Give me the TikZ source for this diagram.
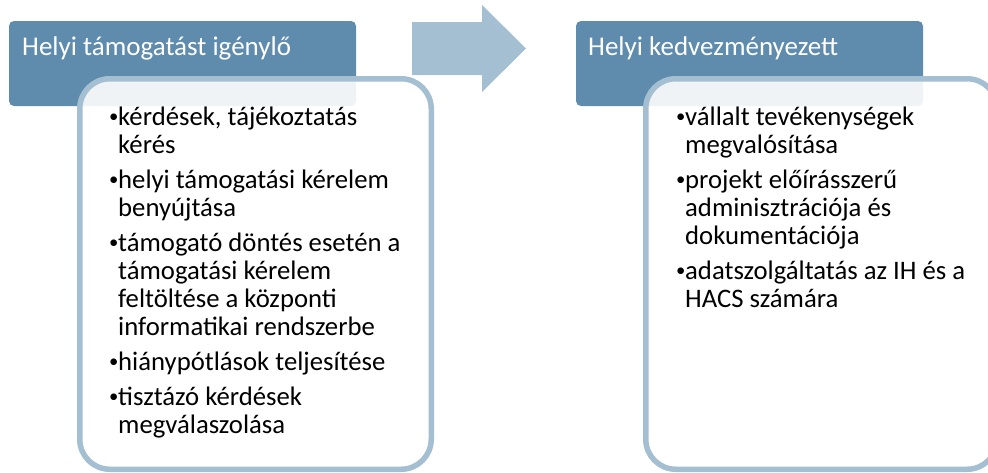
\documentclass[tikz,border=0pt]{standalone}
\usepackage{fontspec}
\setmainfont{Carlito}
\usepackage{array}
\usepackage{graphicx}
\definecolor{hdrblue}{HTML}{5F8BAD}
\definecolor{lineblue}{HTML}{A5BFD2}
\tikzset{
  header/.style={fill=hdrblue, draw=none, rounded corners=5pt, minimum width=347pt, minimum height=85pt, inner sep=0pt, outer sep=0pt},
  panel/.style={draw=lineblue, line width=5.5pt, fill=white, fill opacity=0.9, rounded corners=30pt, minimum width=351.5pt, minimum height=390.5pt, inner sep=0pt, outer sep=0pt},
  headtext/.style={text=white, font=\fontsize{27}{32}\selectfont, anchor=base west, inner sep=0pt},
  bodytext/.style={text=black, font=\fontsize{26.7}{28}\selectfont, anchor=base west, inner sep=0pt},
  bigarrow/.style={fill=lineblue, draw=none}
}
\newcommand{\bl}{\makebox[10pt][l]{\hspace{1pt}\raisebox{2.6pt}{\scalebox{0.7}{\textbullet}}}}
\begin{document}
\begin{tikzpicture}[x=1pt,y=-1pt]
\useasboundingbox (0,0) rectangle (988,472);
\clip (0,0) rectangle (988,472);
% left column
\node[header] (lhead) at (182.5,63.5) {};
\node[headtext] (lheadtxt) at (22,55) {Helyi támogatást igénylő};
\node[panel] (lpanel) at (255.5,274) {};
\node[bodytext] (ltext) at (108,125) {%
\begin{tabular}[t]{@{}l@{}l@{}}
\bl & kérdések, tájékoztatás\\
    & kérés\\[7pt]
\bl & helyi támogatási kérelem\\
    & benyújtása\\[7pt]
\bl & támogató döntés esetén a\\
    & támogatási kérelem\\
    & feltöltése a központi\\
    & informatikai rendszerbe\\[7pt]
\bl & hiánypótlások teljesítése\\[7pt]
\bl & tisztázó kérdések\\
    & megválaszolása
\end{tabular}};
% arrow
\coordinate (arrowtail) at (412,48.5);
\coordinate (arrowtip) at (526,48.5);
\fill[bigarrow] (412,22) -- (482,22) -- (482,5) -- (arrowtip) -- (482,92) -- (482,75) -- (412,75) -- cycle;
% right column
\node[header] (rhead) at (749.5,63.5) {};
\node[headtext] (rheadtxt) at (588,55) {Helyi kedvezményezett};
\node[panel] (rpanel) at (821.5,274) {};
\node[bodytext] (rtext) at (675,125) {%
\begin{tabular}[t]{@{}l@{}l@{}}
\bl & vállalt tevékenységek\\
    & megvalósítása\\[7pt]
\bl & projekt előírásszerű\\
    & adminisztrációja és\\
    & dokumentációja\\[7pt]
\bl & adatszolgáltatás az IH és a\\
    & HACS számára
\end{tabular}};
\end{tikzpicture}
\end{document}
